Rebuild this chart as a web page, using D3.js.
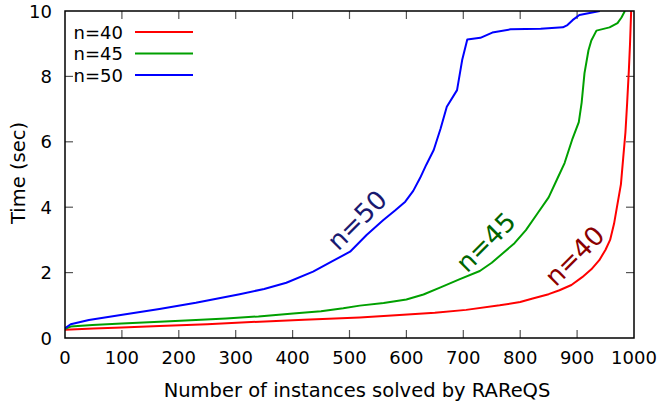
<!DOCTYPE html>
<html><head><meta charset="utf-8">
<script src="https://cdn.jsdelivr.net/npm/d3@7"></script>
<style>body{margin:0;background:#fff}svg{display:block}text{font-family:"DejaVu Sans",sans-serif}</style>
</head><body><svg id="c" width="660" height="409"></svg>
<script>
const seriesNames = ["n=40", "n=45", "n=50"];
const seriesColors = ["#ff0000", "#00a000", "#0000ff"];
const labelColors = ["#8b0000", "#006400", "#191970"];
const xTicks = [0,100,200,300,400,500,600,700,800,900,1000];
const yTicks = [0,2,4,6,8,10];

const n40 = [[0,0.25],[50,0.29],[100,0.32],[166,0.37],[250,0.42],[342,0.50],[420,0.56],[518,0.63],[588,0.70],[650,0.77],[705,0.86],[764,1.0],[800,1.1],[822,1.21],[850,1.34],[869,1.46],[890,1.62],[909,1.86],[925,2.1],[939,2.38],[950,2.7],[958,3.0],[965,3.5],[970,4.0],[977,4.7],[981,5.5],[985,6.3],[988,7.2],[991,8.2],[993,9.0],[995,10]];
const n45 = [[0,0.28],[10,0.35],[48,0.40],[100,0.44],[166,0.50],[230,0.55],[283,0.60],[340,0.66],[401,0.75],[450,0.82],[489,0.91],[518,0.99],[560,1.07],[600,1.18],[630,1.33],[660,1.55],[694,1.8],[729,2.05],[750,2.3],[770,2.6],[790,2.9],[810,3.3],[830,3.8],[850,4.3],[866,4.9],[878,5.35],[892,6.1],[903,6.6],[908,7.2],[913,8.1],[920,8.8],[925,9.1],[934,9.4],[957,9.5],[971,9.63],[978,9.8],[984,10]];
const n50 = [[0,0.3],[10,0.42],[42,0.55],[98,0.70],[166,0.89],[230,1.08],[307,1.34],[350,1.5],[389,1.69],[436,2.03],[470,2.35],[501,2.64],[530,3.15],[559,3.6],[580,3.9],[598,4.17],[612,4.5],[624,4.89],[635,5.3],[648,5.75],[660,6.4],[671,7.07],[689,7.58],[698,8.5],[707,9.13],[730,9.18],[751,9.34],[783,9.44],[836,9.46],[875,9.5],[883,9.57],[892,9.72],[904,9.88],[940,10]];
const allSeries = [n40, n45, n50];
// in-plot label centres (data coords)
const labelPos = [[895,2.52],[739,2.94],[513,3.61]];

const L=65, R=634, T=11, B=338;
const svg = d3.select("#c");
const x = d3.scaleLinear().domain([0,1000]).range([L,R]);
const y = d3.scaleLinear().domain([0,10]).range([B,T]);

svg.append("clipPath").attr("id","cp").append("rect")
  .attr("x",L).attr("y",T).attr("width",R-L).attr("height",B-T);

// ticks (inward, mirrored)
const tg = svg.append("g").attr("stroke","#555").attr("stroke-width",1.2);
xTicks.forEach(v=>{
  if(v===0||v===1000) return;
  tg.append("line").attr("x1",x(v)).attr("x2",x(v)).attr("y1",B).attr("y2",B-8);
  tg.append("line").attr("x1",x(v)).attr("x2",x(v)).attr("y1",T).attr("y2",T+8);
});
yTicks.forEach(v=>{
  if(v===0||v===10) return;
  tg.append("line").attr("y1",y(v)).attr("y2",y(v)).attr("x1",L).attr("x2",L+8);
  tg.append("line").attr("y1",y(v)).attr("y2",y(v)).attr("x1",R).attr("x2",R-8);
});

// tick labels
svg.append("g").selectAll("text").data(xTicks).join("text")
  .attr("x",d=>x(d)).attr("y",364).attr("text-anchor","middle")
  .attr("font-size",18).attr("fill","#000").text(d=>d);
svg.append("g").selectAll("text").data(yTicks).join("text")
  .attr("x",52).attr("y",d=>y(d)+6.5).attr("text-anchor","end")
  .attr("font-size",18).attr("fill","#000").text(d=>d);

// axis titles
svg.append("text").attr("x",357).attr("y",397).attr("text-anchor","middle")
  .attr("font-size",19.5).text("Number of instances solved by RAReQS");
svg.append("text").attr("transform","translate(25,173) rotate(-90)").attr("text-anchor","middle")
  .attr("font-size",19.5).text("Time (sec)");

// lines
const line = d3.line().x(d=>x(d[0])).y(d=>y(d[1]));
const lg = svg.append("g").attr("clip-path","url(#cp)");
allSeries.forEach((s,i)=>{
  lg.append("path").datum(s).attr("d",line).attr("fill","none")
    .attr("stroke",seriesColors[i]).attr("stroke-width",2).attr("stroke-linejoin","round");
});

// in-plot labels
labelPos.forEach((p,i)=>{
  svg.append("text").attr("transform",`translate(${x(p[0])},${y(p[1])}) rotate(-45)`)
    .attr("text-anchor","middle").attr("dy","0.36em").attr("font-size",26)
    .attr("fill",labelColors[i]).text(seriesNames[i]);
});

// legend
seriesNames.forEach((n,i)=>{
  const yy = 32 + i*21.5;
  svg.append("text").attr("x",123).attr("y",yy+6.5).attr("text-anchor","end").attr("font-size",18).text(n);
  svg.append("line").attr("x1",135).attr("x2",193).attr("y1",yy).attr("y2",yy)
    .attr("stroke",seriesColors[i]).attr("stroke-width",2);
});

// border
svg.append("rect").attr("x",L).attr("y",T).attr("width",R-L).attr("height",B-T)
  .attr("fill","none").attr("stroke","#000").attr("stroke-width",1.5);
</script></body></html>
